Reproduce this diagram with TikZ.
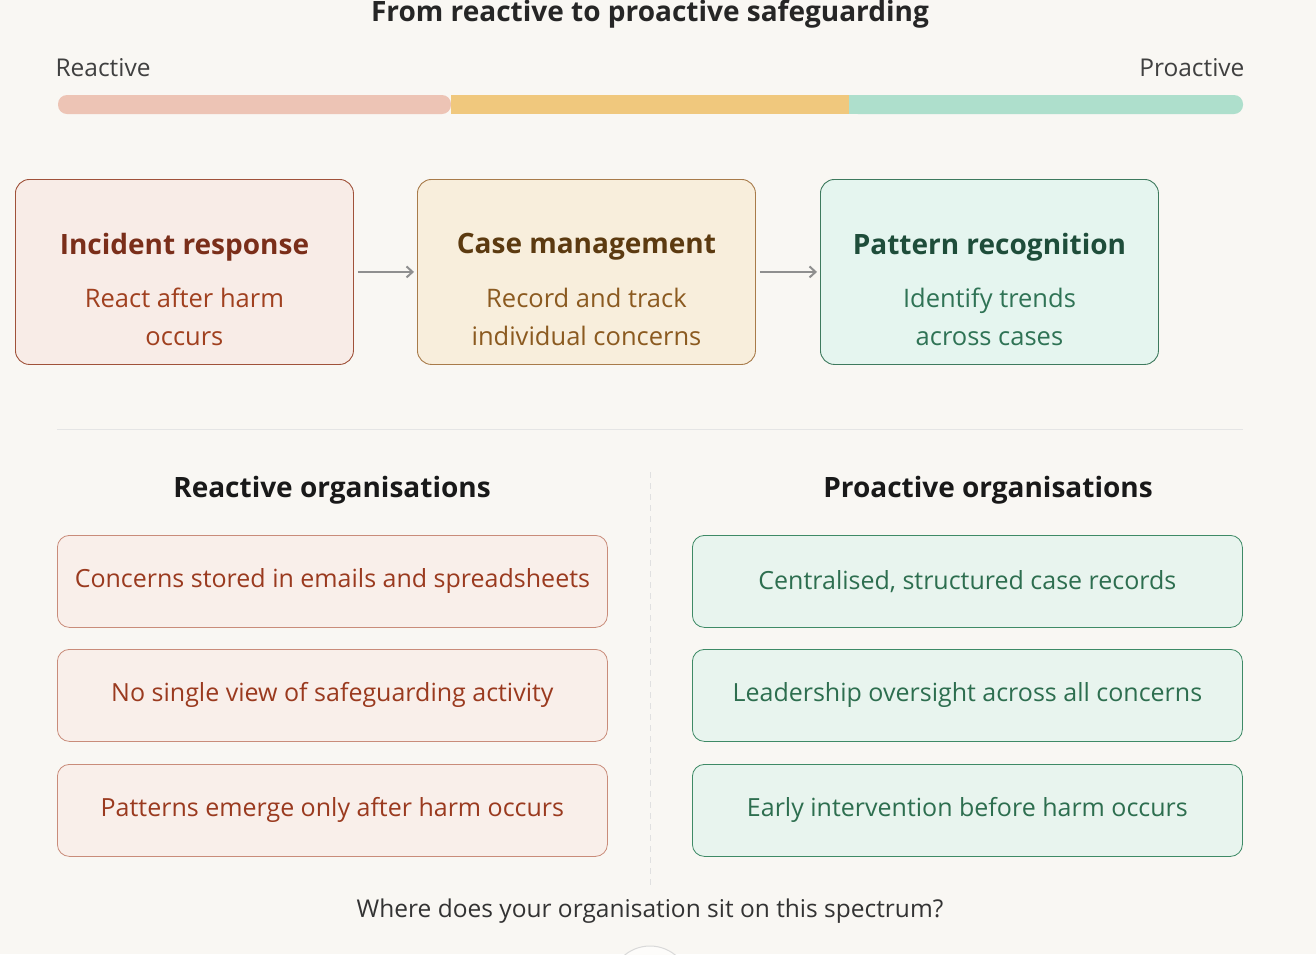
\documentclass[tikz,border=0pt]{standalone}
\usepackage{fontspec}
\setmainfont{Open Sans}
\usetikzlibrary{arrows.meta}
\begin{document}
\begin{tikzpicture}[x=1pt,y=-1pt,
  ttl/.style={font=\fontsize{28}{32}\selectfont\bfseries},
  body/.style={font=\fontsize{25.5}{38}\selectfont},
  stage/.style={rounded corners=14pt,line width=0.9pt,minimum width=338pt,minimum height=185pt,anchor=north west},
  item/.style={rounded corners=12pt,line width=0.8pt,minimum width=550pt,minimum height=92pt,anchor=north west,font=\fontsize{25}{28}\selectfont},
  arr/.style={-{Straight Barb[length=6pt,width=11pt]},line width=2pt,draw=gray!75!black!70}]
\definecolor{bg}{HTML}{F9F7F3}
\definecolor{pR}{HTML}{EDC4B5}\definecolor{pY}{HTML}{F0C87D}\definecolor{pG}{HTML}{AEDFCC}
\useasboundingbox[fill=bg] (0,0) rectangle (1316,954);
\begin{scope}
\clip (0,0) rectangle (1316,954);
\draw[gray!30,line width=1pt,fill=white!60!bg] (650,986) circle (40);
\end{scope}
\node[font=\fontsize{28}{32}\selectfont\bfseries,text=black!85] (title) at (650,14) {From reactive to proactive safeguarding};
\node[font=\fontsize{24.5}{28}\selectfont,text=black!75,anchor=west] (lr) at (52,68) {Reactive};
\node[font=\fontsize{24.5}{28}\selectfont,text=black!75,anchor=east] (lp) at (1248,68) {Proactive};
\fill[pR,rounded corners=9pt] (58,95) rectangle (451,114);
\fill[pG,rounded corners=9pt] (849,95) rectangle (1243,114);
\fill[pG] (849,95) rectangle (860,114);
\fill[pY] (451,95) rectangle (849,114);
\definecolor{aF}{HTML}{F8ECE7}\definecolor{aD}{HTML}{A0523A}\definecolor{aT}{HTML}{7A2E1A}\definecolor{aB}{HTML}{A0401F}
\definecolor{bF}{HTML}{F8EEDC}\definecolor{bD}{HTML}{A87B4A}\definecolor{bT}{HTML}{5C3A10}\definecolor{bB}{HTML}{8B5A20}
\definecolor{cF}{HTML}{E5F5EF}\definecolor{cD}{HTML}{3E7A5E}\definecolor{cT}{HTML}{1E4D3A}\definecolor{cB}{HTML}{2F7355}
\node[stage,fill=aF,draw=aD] (s1) at (15,179) {};
\node[stage,fill=bF,draw=bD] (s2) at (417,179) {};
\node[stage,fill=cF,draw=cD] (s3) at (820,179) {};
\node[ttl,text=aT] (s1t) at ([yshift=25pt]s1.center) {Incident response};
\node[body,text=aB,align=center] (s1b) at ([yshift=-45pt]s1.center) {React after harm\\occurs};
\node[ttl,text=bT] (s2t) at ([yshift=25pt]s2.center) {Case management};
\node[body,text=bB,align=center] (s2b) at ([yshift=-45pt]s2.center) {Record and track\\individual concerns};
\node[ttl,text=cT] (s3t) at ([yshift=25pt]s3.center) {Pattern recognition};
\node[body,text=cB,align=center] (s3b) at ([yshift=-45pt]s3.center) {Identify trends\\across cases};
\draw[arr] ([xshift=4pt]s1.east) -- ([xshift=-3pt]s2.west);
\draw[arr] ([xshift=4pt]s2.east) -- ([xshift=-3pt]s3.west);
\coordinate (h1) at (57,429); \coordinate (h2) at (1243,429);
\draw[black!10,line width=1pt] (h1) -- (h2);
\coordinate (v1) at (650,472); \coordinate (v2) at (650,886);
\draw[black!12,line width=1pt,dash pattern=on 6pt off 5pt] (v1) -- (v2);
\node[font=\fontsize{28}{32}\selectfont\bfseries,text=black!90] (hl) at (332,490) {Reactive organisations};
\node[font=\fontsize{28}{32}\selectfont\bfseries,text=black!90] (hr) at (988,490) {Proactive organisations};
\definecolor{lF}{HTML}{F9EFEA}\definecolor{lD}{HTML}{C98C7A}\definecolor{lT}{HTML}{9A3A1F}
\definecolor{rF}{HTML}{E8F4EE}\definecolor{rD}{HTML}{3E8A66}\definecolor{rT}{HTML}{2D6E4F}
\node[item,fill=lF,draw=lD,text=lT] (l1) at (57,535) {Concerns stored in emails and spreadsheets};
\node[item,fill=lF,draw=lD,text=lT] (l2) at (57,649) {No single view of safeguarding activity};
\node[item,fill=lF,draw=lD,text=lT] (l3) at (57,764) {Patterns emerge only after harm occurs};
\node[item,fill=rF,draw=rD,text=rT] (r1) at (692,535) {Centralised, structured case records};
\node[item,fill=rF,draw=rD,text=rT] (r2) at (692,649) {Leadership oversight across all concerns};
\node[item,fill=rF,draw=rD,text=rT] (r3) at (692,764) {Early intervention before harm occurs};
\node[font=\fontsize{24.5}{28}\selectfont,text=black!80] (q) at (650,911) {Where does your organisation sit on this spectrum?};
\end{tikzpicture}
\end{document}
